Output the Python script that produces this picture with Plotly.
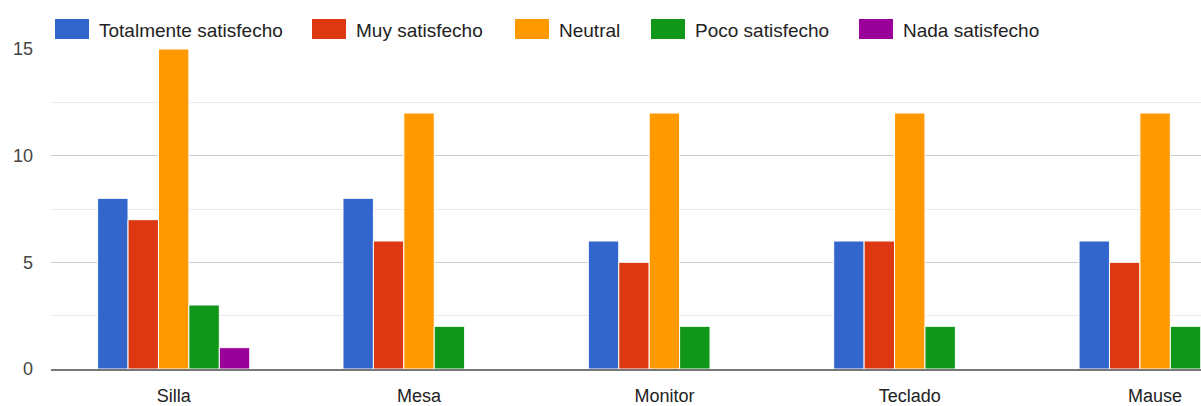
import plotly.graph_objects as go

categories = ["Silla", "Mesa", "Monitor", "Teclado", "Mause"]
series_names = ["Totalmente satisfecho", "Muy satisfecho", "Neutral", "Poco satisfecho", "Nada satisfecho"]
totalmente = [8, 8, 6, 6, 6]
muy = [7, 6, 5, 6, 5]
neutral = [15, 12, 12, 12, 12]
poco = [3, 2, 2, 2, 2]
nada = [1, 0, 0, 0, 0]
colors = ["#3366cc", "#dc3912", "#ff9900", "#109618", "#990099"]
y_ticks = [0, 5, 10, 15]

FONT = "Liberation Sans, Arial, sans-serif"

# plot area in pixels
W, H = 1201, 406
L, R, T, B = 51, 0, 49, 37
pw, ph = W - L - R, H - T - B

fig = go.Figure()
for name, vals, col in zip(series_names, [totalmente, muy, neutral, poco, nada], colors):
    fig.add_trace(go.Bar(x=categories, y=vals, name=name,
                         marker=dict(color=col, line=dict(color="white", width=1))))

# custom legend (large colour boxes like the original)
legend_box_left = [55, 312, 515, 651, 859]
shapes = []
annotations = []
for name, col, xl in zip(series_names, colors, legend_box_left):
    x0 = (xl - L) / pw
    x1 = (xl + 34 - L) / pw
    y0 = (H - B - 39) / ph
    y1 = (H - B - 19) / ph
    shapes.append(dict(type="rect", xref="paper", yref="paper", x0=x0, x1=x1, y0=y0, y1=y1,
                       fillcolor=col, line=dict(width=0)))
    annotations.append(dict(text=name, xref="paper", yref="paper", x=(xl + 42 - L) / pw,
                            y=(H - B - 30) / ph, xanchor="left", yanchor="middle",
                            showarrow=False, font=dict(family=FONT, size=19, color="#222")))

fig.update_layout(
    width=W, height=H,
    margin=dict(l=L, r=R, t=T, b=B),
    barmode="group", bargap=0.38, bargroupgap=0,
    plot_bgcolor="white", paper_bgcolor="white",
    font=dict(family=FONT, size=18, color="#444"),
    showlegend=False,
    shapes=shapes, annotations=annotations,
)
fig.update_xaxes(range=[-0.5, 4.187], showgrid=False, showline=True, linecolor="#777",
                 linewidth=2, zeroline=False, ticks="", layer="above traces",
                 tickfont=dict(family=FONT, size=18, color="#222"), ticklabelstandoff=9)
fig.update_yaxes(range=[0, 15], tickvals=y_ticks, showgrid=True, gridcolor="#cccccc",
                 zeroline=False,
                 minor=dict(dtick=2.5, showgrid=True, gridcolor="#e8e8e8"),
                 tickfont=dict(family=FONT, size=18, color="#444"), ticklabelstandoff=17)

fig.write_html("out.html")
